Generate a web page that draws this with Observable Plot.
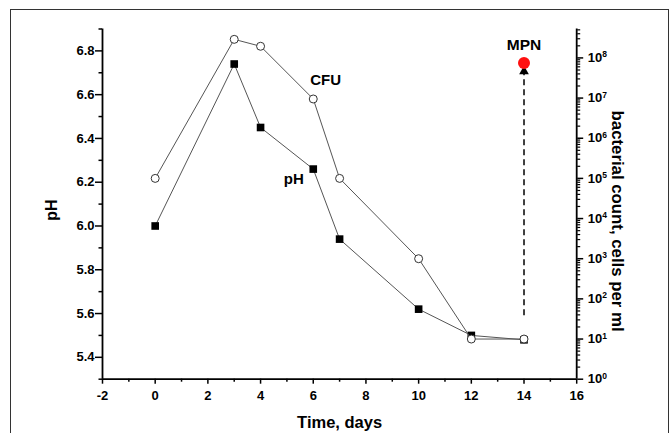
<!DOCTYPE html>
<html><head><meta charset="utf-8">
<script src="https://cdn.jsdelivr.net/npm/d3@7"></script>
<script src="https://cdn.jsdelivr.net/npm/@observablehq/plot@0.6"></script>
<style>
body{margin:0;background:#fff;font-family:"Liberation Sans",Arial,sans-serif;}
#wrap{position:relative;width:670px;height:433px;overflow:hidden;background:#fff;}
#frame{position:absolute;left:10px;top:9px;width:659px;height:440px;border:1.5px solid #333;box-sizing:border-box;}
#wrap svg{position:absolute;left:0;top:0;}
</style></head><body><div id="wrap"><div id="frame"></div></div>
<script>
// ---- data ----
const days = [0, 3, 4, 6, 7, 10, 12, 14];
const pHValues = [6.00, 6.74, 6.45, 6.26, 5.94, 5.62, 5.50, 5.48];
const cfuValues = [1e5, 2.9e8, 1.95e8, 9.5e6, 1e5, 1e3, 10, 10];
const mpnDay = 14;
const mpnValue = 7.5e7;
const mpnArrowFrom = 38;
const mpnArrowHead = 4.6e7;
const pHTicks = [5.4, 5.6, 5.8, 6.0, 6.2, 6.4, 6.6, 6.8];
const pHMinorTicks = [5.3, 5.5, 5.7, 5.9, 6.1, 6.3, 6.5, 6.7, 6.9];
const dayTicks = [-2, 0, 2, 4, 6, 8, 10, 12, 14, 16];
const dayMinorTicks = [-1, 1, 3, 5, 7, 9, 11, 13, 15];
const decadeTicks = [1, 1e1, 1e2, 1e3, 1e4, 1e5, 1e6, 1e7, 1e8];
const countMax = Math.pow(10, 8.72);

const pHRows = days.map((d, i) => ({day: d, pH: pHValues[i]}));
const cfuRows = days.map((d, i) => ({day: d, cfu: cfuValues[i]}));
const minorLog = [];
decadeTicks.forEach(p => { for (let m = 2; m <= 9; m++) { const v = m * p; if (v <= countMax) minorLog.push(v); } });

const W = 670, H = 433;
const layout = {width: W, height: H, marginLeft: 102, marginRight: 93.8, marginTop: 28.5, marginBottom: 54.3};
const font = {fontFamily: "'Liberation Sans', Arial, sans-serif", fontSize: "13px", fontWeight: "bold", background: "transparent", color: "#000", overflow: "visible"};

const plot1 = Plot.plot({
  ...layout, style: font,
  x: {domain: [-2, 16]},
  y: {domain: [5.3, 6.9]},
  marks: [
    Plot.axisX(dayMinorTicks, {tickSize: 3, strokeWidth: 1.5, tickFormat: () => "", label: null}),
    Plot.axisX(dayTicks, {tickSize: 5, strokeWidth: 1.5, tickPadding: 7, tickFormat: d => String(d), label: null}),
    Plot.axisY(pHMinorTicks, {tickSize: 3.5, strokeWidth: 1.5, tickFormat: () => "", label: null}),
    Plot.axisY(pHTicks, {tickSize: 7, strokeWidth: 1.5, tickPadding: 1, tickFormat: d => d.toFixed(1), label: null}),
    Plot.ruleX([-2], {stroke: "#000", strokeWidth: 1.8}),
    Plot.ruleY([5.3], {stroke: "#000", strokeWidth: 1.8}),
    Plot.line(pHRows, {x: "day", y: "pH", stroke: "#555", strokeWidth: 1}),
    Plot.dot(pHRows, {x: "day", y: "pH", symbol: "square", r: 4.3, fill: "#000", stroke: null}),
    Plot.text(["pH"], {x: [5.26], y: [6.214], fontSize: 15, fontWeight: "bold"}),
    Plot.text(["pH"], {frameAnchor: "left", textAnchor: "middle", lineAnchor: "middle", dx: -51, dy: 6, rotate: -90, fontSize: 16, fontWeight: "bold"}),
    Plot.text(["Time, days"], {frameAnchor: "bottom", textAnchor: "middle", lineAnchor: "middle", dy: 44, fontSize: 16.5, fontWeight: "bold"})
  ]
});

const plot2 = Plot.plot({
  ...layout, style: font,
  x: {domain: [-2, 16], axis: null},
  y: {type: "log", domain: [1, countMax]},
  marks: [
    Plot.axisY(minorLog, {anchor: "right", tickSize: 3, strokeWidth: 1.2, tickFormat: () => "", label: null}),
    Plot.axisY(decadeTicks, {anchor: "right", tickSize: 6, strokeWidth: 1.5, tickPadding: 5, tickFormat: d => "10^" + Math.round(Math.log10(d)), label: null}),
    Plot.ruleX([16], {stroke: "#000", strokeWidth: 1.8}),
    Plot.line(cfuRows, {x: "day", y: "cfu", stroke: "#555", strokeWidth: 1}),
    Plot.dot(cfuRows, {x: "day", y: "cfu", r: 4, fill: "#fff", stroke: "#333", strokeWidth: 1}),
    Plot.ruleX([mpnDay], {y1: mpnArrowFrom, y2: mpnArrowHead, stroke: "#000", strokeWidth: 1.5, strokeDasharray: "6,4"}),
    Plot.dot([mpnDay], {x: d => d, y: () => mpnArrowHead, symbol: "triangle", r: 3.6, fill: "#000", stroke: null}),
    Plot.dot([mpnDay], {x: d => d, y: () => mpnValue, r: 6, fill: "#ff1010", stroke: null}),
    Plot.text(["MPN"], {x: [mpnDay], y: [2.04e8], fontSize: 15.5, fontWeight: "bold"}),
    Plot.text(["CFU"], {x: [6.47], y: [2.8e7], fontSize: 15, fontWeight: "bold"}),
    Plot.text(["bacterial count, cells per ml"], {frameAnchor: "right", textAnchor: "middle", lineAnchor: "middle", dx: 41, dy: 17, rotate: 90, fontSize: 16.8, fontWeight: "bold"})
  ]
});

const wrap = document.getElementById("wrap");
wrap.appendChild(plot1);
wrap.appendChild(plot2);

// superscript exponents on the right axis labels
plot2.querySelectorAll("text").forEach(t => {
  const s = t.textContent;
  const m = /^10\^(\d+)$/.exec(s);
  if (m) {
    t.textContent = "10";
    const sup = document.createElementNS("http://www.w3.org/2000/svg", "tspan");
    sup.setAttribute("dy", "-0.55em");
    sup.setAttribute("font-size", "8.5");
    sup.textContent = m[1];
    t.appendChild(sup);
  }
});
</script>
</body></html>
